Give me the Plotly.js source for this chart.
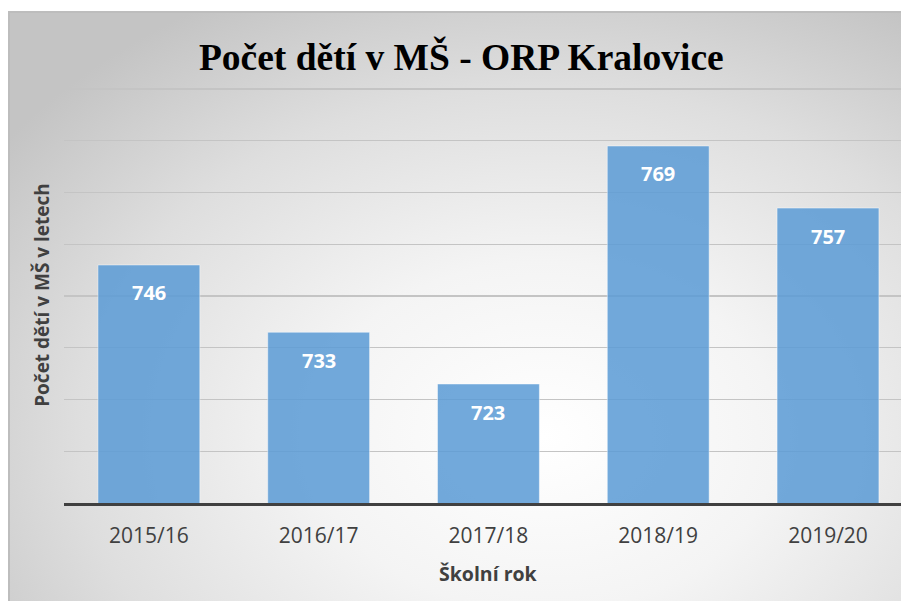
<!DOCTYPE html>
<html>
<head>
<meta charset="utf-8">
<script src="https://cdn.plot.ly/plotly-3.0.1.min.js"></script>
<style>
  html, body { margin: 0; padding: 0; background: #ffffff; }
  #bg { position: absolute; left: 8px; top: 11px; width: 893px; height: 590px;
        border-top: 2px solid #bdbdbd; border-left: 2px solid #bdbdbd; box-sizing: border-box;
        background: radial-gradient(ellipse 75% 85% at 60% 72%, #ffffff 0%, #f4f4f4 35%, #dedede 70%, #c4c4c4 100%); }
  #chart { position: absolute; left: 0; top: 0; width: 901px; height: 601px; }
</style>
</head>
<body>
<div id="bg"></div>
<div id="chart"></div>
<script>
const categories = ["2015/16", "2016/17", "2017/18", "2018/19", "2019/20"];
const values = [746, 733, 723, 769, 757];
const chartTitle = "Počet dětí v MŠ - ORP Kralovice";
const xTitle = "Školní rok";
const yTitle = "Počet dětí v MŠ v letech";

const trace = {
  type: "bar",
  x: categories,
  y: values,
  width: 0.6,
  marker: { color: "rgba(91,155,213,0.86)", line: { color: "rgba(255,255,255,0.45)", width: 1 } },
  hoverinfo: "none"
};

const labelAnnotations = categories.map((c, i) => ({
  x: c, y: values[i], xref: "x", yref: "y",
  text: String(values[i]), showarrow: false,
  yanchor: "middle", yshift: -28,
  font: { family: "Open Sans, sans-serif", size: 20, color: "#ffffff", weight: "bold" }
}));

const layout = {
  width: 901, height: 601,
  paper_bgcolor: "rgba(0,0,0,0)",
  plot_bgcolor: "rgba(0,0,0,0)",
  margin: { l: 64, r: 0, t: 87, b: 98 },
  showlegend: false,
  title: {
    text: "<b>" + chartTitle + "</b>",
    font: { family: "Liberation Serif, Times New Roman, serif", size: 37.5, color: "#000000" },
    x: 0.512, xref: "container", xanchor: "center",
    y: 0.906, yref: "container", yanchor: "middle"
  },
  xaxis: {
    type: "category",
    range: [-0.5, 4.43],
    showgrid: false,
    showline: true, linecolor: "#404040", linewidth: 3,
    ticks: "", ticklabelstandoff: 12,
    tickfont: { family: "Open Sans, sans-serif", size: 21, color: "#404040" },
    zeroline: false, fixedrange: true
  },
  yaxis: {
    range: [700, 780.4],
    dtick: 10, tick0: 700,
    showgrid: true, gridcolor: "#c4c4c4", gridwidth: 1.3,
    showticklabels: false, ticks: "",
    zeroline: false, showline: false,
    title: { text: "<b>" + yTitle + "</b>", standoff: 8,
             font: { family: "Open Sans, sans-serif", size: 19, color: "#404040" } },
    fixedrange: true
  },
  annotations: labelAnnotations.concat([{
    x: categories[2], xref: "x", y: 0, yref: "paper",
    yanchor: "middle", yshift: -70, showarrow: false,
    text: "<b>" + xTitle + "</b>",
    font: { family: "Open Sans, sans-serif", size: 19.5, color: "#404040" }
  }])
};

Plotly.newPlot("chart", [trace], layout, { displayModeBar: false, staticPlot: true });
</script>
</body>
</html>
